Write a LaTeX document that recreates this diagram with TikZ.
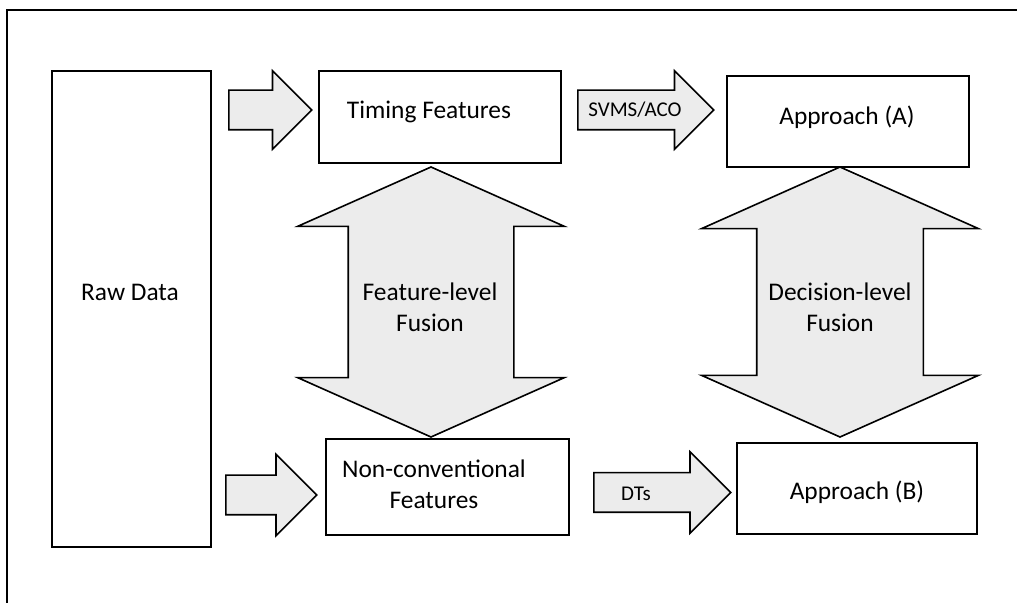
\documentclass[tikz,border=0pt]{standalone}
\usepackage{fontspec}
\setmainfont{Carlito}
\usetikzlibrary{shapes.arrows}

\begin{document}
\begin{tikzpicture}[x=0.5pt,y=-0.5pt,
                box/.style={draw,line width=1pt,inner sep=0pt,anchor=north west,font=\fontsize{12.7}{15.5}\selectfont},
                flow/.style={single arrow,draw,line width=0.8pt,fill=gray!15,inner xsep=0pt,inner ysep=9.5pt,
                    single arrow tip angle=90,anchor=tail},
                fusion/.style={double arrow,draw,line width=0.8pt,fill=gray!15,
                    shape border rotate=90,double arrow tip angle=132,minimum height=135pt},
                lbl/.style={inner sep=0pt,font=\fontsize{10.5}{12.5}\selectfont},
                big/.style={inner sep=0pt,align=center,font=\fontsize{12.7}{15.5}\selectfont}]
                \useasboundingbox (0,0) rectangle (1017,603);
                \draw [line width=1pt](1017,10) -- (7,10) -- (7,603);

                \node [box,minimum width=79.5pt,minimum height=238pt](raw) at (51,70) {};
                \node [big](rawtxt) at (130,292) {Raw Data};
                \node [box,minimum width=121pt,minimum height=46pt](timing) at (318,70) {};
                \node [big](timingtxt) at (429,112) {Timing Features};
                \node [box,minimum width=121pt,minimum height=45.5pt](appA) at (726,75) {};
                \node [big](appAtxt) at (847,117) {Approach (A)};
                \node [box,minimum width=121.5pt,minimum height=48pt](nonconv) at (325,438) {};
                \node [big](nonconvtxt) at (434,484) {Non-conventional\\Features};
                \node [box,minimum width=120pt,minimum height=45.5pt](appB) at (736,442) {};
                \node [big](appBtxt) at (857,492) {Approach (B)};

                \node [flow,minimum width=38.5pt,single arrow head extend=9.75pt,minimum height=41.5pt](toTiming) at (228,110) {};
                \node [flow,minimum width=38.5pt,single arrow head extend=9.75pt,minimum height=68pt](svms) at (577,110) {};
                \node [lbl](svmstxt) at (635,110) {SVMS/ACO};
                \node [flow,minimum width=40pt,single arrow head extend=10.5pt,minimum height=45.5pt](toNonconv) at (225,495) {};
                \node [flow,minimum width=40pt,single arrow head extend=10.5pt,minimum height=68.5pt](dts) at (593,492.5) {};
                \node [lbl](dtstxt) at (636,494) {DTs};

                \node [fusion,inner sep=41pt,double arrow head extend=25.25pt](featfus) at (431,302) {};
                \node [big](featfustxt) at (430,307) {Feature-level\\Fusion};
                \node [fusion,inner sep=41.25pt,double arrow head extend=27.5pt](decfus) at (840,302) {};
                \node [big](decfustxt) at (840,307) {Decision-level\\Fusion};
            \end{tikzpicture}
\end{document}
